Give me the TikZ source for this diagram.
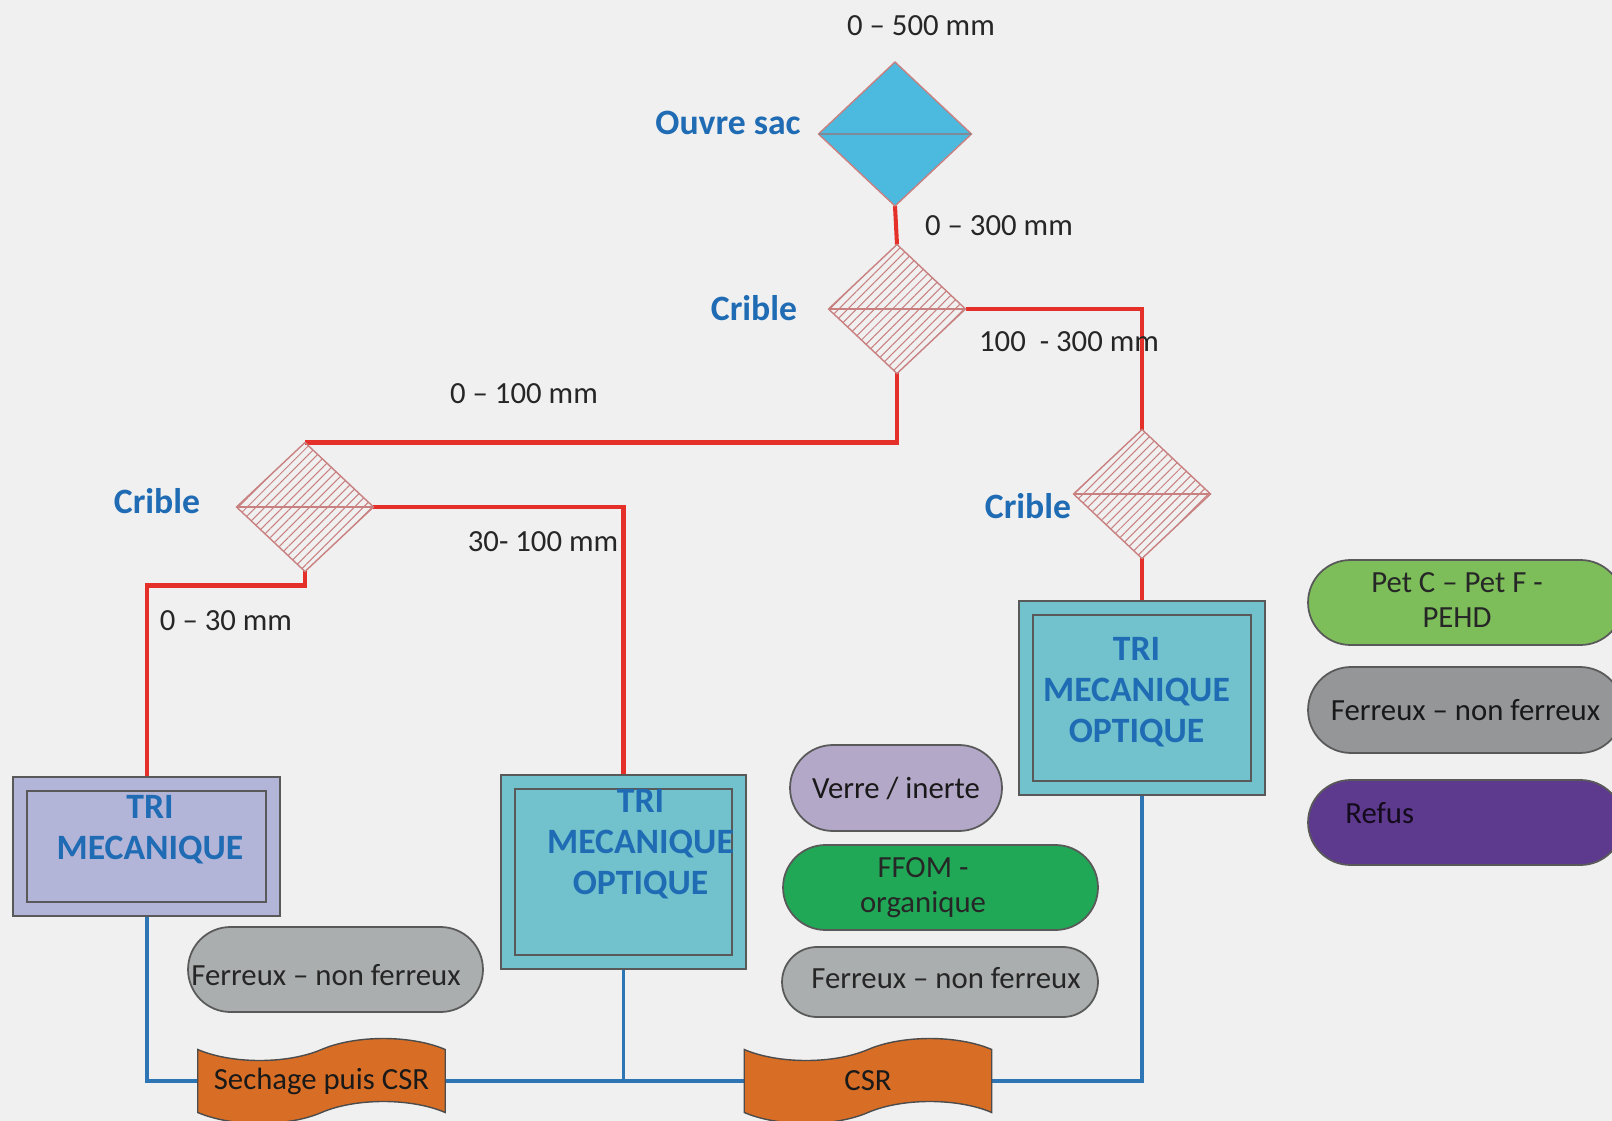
\documentclass[tikz,border=0pt]{standalone}
\usepackage{fontspec}
\setmainfont{Carlito}
\usetikzlibrary{shapes.geometric,shapes.misc,shapes.symbols,patterns.meta,backgrounds}

\definecolor{fond}{HTML}{F0F0F0}
\definecolor{rouge}{HTML}{E5302A}
\definecolor{bleu}{HTML}{2E75B6}
\definecolor{bleutexte}{HTML}{1F6BB4}
\definecolor{hachure}{HTML}{C98080}
\definecolor{ciel}{HTML}{4CB9DE}
\definecolor{trait}{HTML}{7F8A96}
\definecolor{lavande}{HTML}{B2B4D8}
\definecolor{turquoise}{HTML}{71C2CC}
\definecolor{orangecsr}{HTML}{D86E26}
\definecolor{grisclair}{HTML}{ABAEAE}
\definecolor{grisfonce}{HTML}{949698}
\definecolor{mauve}{HTML}{B4A8C8}
\definecolor{vertffom}{HTML}{21A857}
\definecolor{vertpet}{HTML}{7DBE5A}
\definecolor{violetrefus}{HTML}{5E3A8E}

\def\texte{\fontsize{17.5}{19.8}\selectfont}
\def\titre{\fontsize{20.3}{23.2}\selectfont\bfseries}

\tikzset{
	mesure/.style={font=\texte, text=black!85, inner sep=0},
	etape/.style={font=\titre, text=bleutexte, inner sep=0, align=center},
	crible/.style={diamond, draw=hachure, line width=0.8pt, pattern={Lines[angle=45,distance=3.6pt,line width=0.6pt]}, pattern color=hachure, minimum width=2.74cm, minimum height=2.58cm, inner sep=0, outer sep=0},
	tri/.style={rectangle, draw=black!65, line width=0.04cm, double distance=0.24cm, inner sep=0, outer sep=0},
	pilule/.style={rounded rectangle, draw=black!65, line width=1pt, font=\texte, text=black!90, align=center, inner sep=0, minimum height=1.7cm},
	bande/.style={tape, draw=black!70, line width=0.8pt, fill=orangecsr, font=\texte, text=black!90, minimum width=4.95cm, minimum height=1.7cm, tape bend height=0.44cm, inner sep=0, outer sep=0},
	flux/.style={draw=rouge, line width=2.3pt},
	sortie/.style={draw=bleu, line width=2.2pt}
}

\begin{document}
\begin{tikzpicture}[x=0.02cm, y=-0.02cm]
			\useasboundingbox (0,0) rectangle (1612,1121);
			
			%%%%% DIAMONDS %%%%%
			
			\node[diamond, draw=hachure, line width=0.8pt, fill=ciel, minimum width=3.06cm, minimum height=2.88cm, inner sep=0, outer sep=0] (ouvre) at (895,134) {};
			\draw[trait, line width=1.3pt] (ouvre.west) -- (ouvre.east);
			
			\node[crible] (crible1) at (897,309) {};
			\node[crible] (crible2) at (305,507) {};
			\node[crible] (crible3) at (1142,494) {};
			\foreach \c in {crible1,crible2,crible3}
				\draw[hachure, line width=0.8pt] (\c.west) -- (\c.east);
			
			%%%%% TRI %%%%%
			
			\node[tri, fill=lavande, double=lavande, minimum width=5.07cm, minimum height=2.51cm] (tri1) at (146.75,846.75) {};
			\node[tri, fill=turquoise, double=turquoise, minimum width=4.64cm, minimum height=3.62cm] (tri2) at (623.5,872) {};
			\node[tri, fill=turquoise, double=turquoise, minimum width=4.64cm, minimum height=3.59cm] (tri3) at (1142,698) {};
			
			\node[etape] (tri1txt) at (150,830) {TRI\\MECANIQUE};
			\node[etape] (tri2txt) at (640.5,844) {TRI\\MECANIQUE\\OPTIQUE};
			\node[etape] (tri3txt) at (1136.5,692) {TRI\\MECANIQUE\\OPTIQUE};
			
			%%%%% CSR %%%%%
			
			\node[bande] (sechage) at (321.5,1081) {Sechage puis CSR};
			\node[bande] (csr) at (868,1081) {CSR};
			
			%%%%% PRODUITS %%%%%
			
			\node[pilule, fill=grisclair, minimum width=5.9cm] (ferreux1) at (335.5,969.5) {};
			\node[mesure] (ferreux1txt) at (326,975) {Ferreux -- non ferreux};
			\node[pilule, fill=mauve, minimum width=4.24cm, minimum height=1.72cm] (verre) at (896,788) {Verre / inerte};
			\node[pilule, fill=vertffom, minimum width=6.3cm] (ffom) at (940.5,887.5) {};
			\node[mesure, align=center] (ffomtxt) at (923,888) {FFOM -\\organique};
			\node[pilule, fill=grisclair, minimum width=6.32cm, minimum height=1.4cm] (ferreux2) at (940,982) {};
			\node[mesure] (ferreux2txt) at (946,978) {Ferreux -- non ferreux};
			\node[pilule, fill=vertpet, minimum width=6.3cm] (pet) at (1465.5,602.5) {};
			\node[mesure, align=center] (pettxt) at (1457,600) {Pet C -- Pet F -\\PEHD};
			\node[pilule, fill=grisfonce, minimum width=6.3cm, minimum height=1.72cm] (ferreux3) at (1465.5,710) {Ferreux -- non ferreux};
			\node[pilule, fill=violetrefus, minimum width=6.3cm] (refus) at (1465.5,822.5) {};
			\node[mesure, anchor=west, text=black!80!violetrefus] (refustxt) at (1345,813) {Refus};
			
			%%%%% LABELS %%%%%
			
			\node[etape] (ouvretxt) at (728,123) {Ouvre sac};
			\node[etape] (crible1txt) at (754,308) {Crible};
			\node[etape] (crible2txt) at (157,501) {Crible};
			\node[etape] (crible3txt) at (1028,506) {Crible};
			
			\node[mesure] (m500) at (921,26) {0 -- 500 mm};
			\node[mesure] (m300) at (999,226) {0 -- 300 mm};
			\node[mesure] (m100300) at (1069,342) {100\ \ - 300 mm};
			\node[mesure] (m0100) at (524,394) {0 -- 100 mm};
			\node[mesure] (m30100) at (543,542) {30- 100 mm};
			\node[mesure] (m030) at (226,621) {0 -- 30 mm};
			
			%%%%% FLUX %%%%%
			
			\begin{scope}[on background layer]
				\fill[fond] (0,0) rectangle (1612,1121);
				
				\draw[flux] (ouvre.south) -- (crible1.north);
				\draw[flux] (crible1.east) -| (crible3.north);
				\draw[flux] (crible1.south) |- (crible2.north);
				\draw[flux] (crible2.east) -| (tri2.north);
				\draw[flux] (crible2.south) -- ++(0,14) -| (tri1.north);
				\draw[flux] (crible3.south) -- (tri3.north);
				
				\draw[sortie] (tri1.south) |- (sechage.west);
				\draw[sortie] (sechage.east) -- (csr.west);
				\draw[sortie] (tri2.south) -- (tri2.south |- csr.west);
				\draw[sortie] (csr.east) -| (tri3.south);
			\end{scope}
			
\end{tikzpicture}
\end{document}
